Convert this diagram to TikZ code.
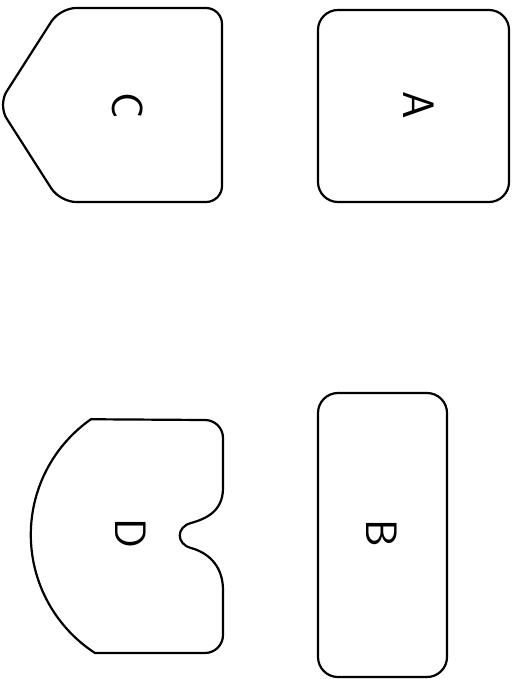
\documentclass[tikz,border=0pt]{standalone}
\usepackage{fontspec}
\usepackage{tikz}

\begin{document}
\begin{tikzpicture}[
    x=1pt, y=-1pt,
    outline/.style={draw=black, line width=2.2pt, line join=round},
    plabel/.style={font=\sffamily\fontsize{44}{44}\selectfont, rotate=-90, inner sep=0pt}
]
\useasboundingbox (0,0) rectangle (513,679);

% Piece C (pointed)
\draw[outline, rounded corners=16pt] (-2,105) -- (60,8) -- (222,8) -- (222,202) -- (60,202) -- cycle;

% Piece A
\draw[outline, rounded corners=20pt] (318,10) rectangle (509,202);

% Piece D (arc with notch)
\draw[outline] (95,653) arc[start angle=123, end angle=235, radius=141]
    -- (205,420) arc[start angle=-90, end angle=0, radius=18]
    -- (223,488) .. controls (223,512) and (205,519) .. (191,523)
    .. controls (176,527) and (176,544) .. (191,548)
    .. controls (206,552) and (223,564) .. (223,590)
    -- (223,635) arc[start angle=0, end angle=90, radius=18]
    -- cycle;

% Piece B
\draw[outline, rounded corners=20pt] (318,393) rectangle (447,677);

% Labels
\node[plabel] (lblC) at (128,106) {C};
\node[plabel] (lblA) at (419,105) {A};
\node[plabel] (lblD) at (131,533) {D};
\node[plabel] (lblB) at (382,533) {B};

\end{tikzpicture}
\end{document}
